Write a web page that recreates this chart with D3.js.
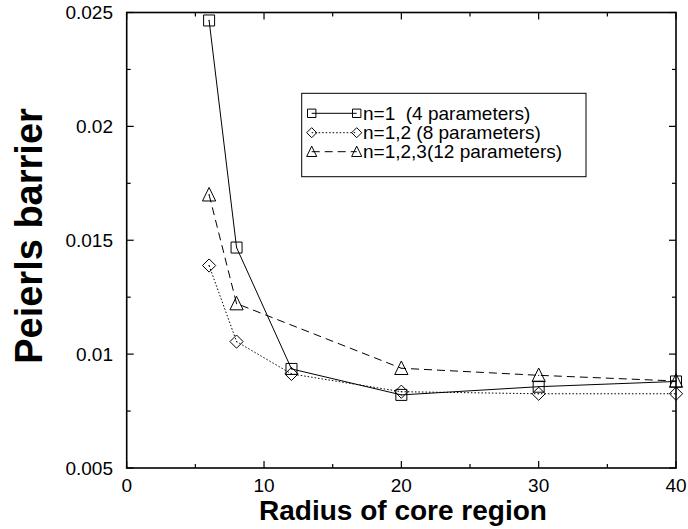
<!DOCTYPE html>
<html>
<head>
<meta charset="utf-8">
<script src="https://cdn.jsdelivr.net/npm/d3@7"></script>
<style>
  html, body { margin: 0; padding: 0; background: #fff; }
  svg { display: block; }
  text { font-family: "Liberation Sans", Arial, sans-serif; fill: #000; }
</style>
</head>
<body>
<svg id="chart" width="688" height="529"></svg>
<script>
// Core radius values (x) and Peierls barrier for each fit
const radii = [6, 8, 12, 20, 30, 40];
const barrierN1 = [0.02465, 0.01468, 0.00935, 0.00821, 0.00857, 0.00880];
const barrierN12 = [0.01389, 0.01055, 0.00913, 0.00835, 0.00826, 0.00826];
const barrierN123 = [0.01700, 0.01222, null, 0.00938, 0.00907, 0.00882];

const seriesNames = ["n=1  (4 parameters)", "n=1,2 (8 parameters)", "n=1,2,3(12 parameters)"];
const xTicks = [0, 10, 20, 30, 40];
const yTicks = [0.005, 0.01, 0.015, 0.02, 0.025];
const yTickLabels = ["0.005", "0.01", "0.015", "0.02", "0.025"];
const xMinorTicks = [5, 15, 25, 35];
const yMinorTicks = [0.0075, 0.0125, 0.0175, 0.0225];

const series = [
  { name: seriesNames[0], values: barrierN1, symbol: "square", dash: null },
  { name: seriesNames[1], values: barrierN12, symbol: "diamond", dash: "1.5,2" },
  { name: seriesNames[2], values: barrierN123, symbol: "triangle", dash: "8,5" }
];

const svg = d3.select("#chart");
const plotLeft = 126.7, plotRight = 676, plotTop = 12.5, plotBottom = 468;

const x = d3.scaleLinear().domain([0, 40]).range([plotLeft, plotRight]);
const y = d3.scaleLinear().domain([0.005, 0.025]).range([plotBottom, plotTop]);

// Tick marks drawn inward on all four sides
const g = svg.append("g");
const major = 7, minor = 4;
function tickLines(vals, len, horizontal) {
  vals.forEach(v => {
    if (horizontal) {
      g.append("line").attr("x1", x(v)).attr("x2", x(v)).attr("y1", plotBottom).attr("y2", plotBottom - len)
        .attr("stroke", "#000").attr("stroke-width", 1.2);
      g.append("line").attr("x1", x(v)).attr("x2", x(v)).attr("y1", plotTop).attr("y2", plotTop + len)
        .attr("stroke", "#000").attr("stroke-width", 1.2);
    } else {
      g.append("line").attr("x1", plotLeft).attr("x2", plotLeft + len).attr("y1", y(v)).attr("y2", y(v))
        .attr("stroke", "#000").attr("stroke-width", 1.2);
      g.append("line").attr("x1", plotRight).attr("x2", plotRight - len).attr("y1", y(v)).attr("y2", y(v))
        .attr("stroke", "#000").attr("stroke-width", 1.2);
    }
  });
}
tickLines(xTicks, major, true);
tickLines(xMinorTicks, minor, true);
tickLines(yTicks, major, false);
tickLines(yMinorTicks, minor, false);

// Frame
g.append("rect").attr("x", plotLeft).attr("y", plotTop)
  .attr("width", plotRight - plotLeft).attr("height", plotBottom - plotTop)
  .attr("fill", "none").attr("stroke", "#000").attr("stroke-width", 1.6);

// Tick labels
g.selectAll(".xl").data(xTicks).enter().append("text")
  .attr("x", d => x(d)).attr("y", 485).attr("dy", "0.35em")
  .attr("text-anchor", "middle").style("font-size", "19px").text(d => d);
g.selectAll(".yl").data(yTicks).enter().append("text")
  .attr("x", 113).attr("y", d => y(d)).attr("dy", "0.35em")
  .attr("text-anchor", "end").style("font-size", "19px").text((d, i) => yTickLabels[i]);

// Axis titles
svg.append("text").attr("x", 403).attr("y", 520).attr("text-anchor", "middle")
  .style("font-size", "28px").style("font-weight", "bold").text("Radius of core region");
svg.append("text").attr("transform", "translate(42,236) rotate(-90)").attr("text-anchor", "middle")
  .style("font-size", "38px").style("font-weight", "bold").text("Peierls barrier");

// Marker path generators
function symbolPath(type, s) {
  if (type === "square") {
    return `M${-s},${-s}L${s},${-s}L${s},${s}L${-s},${s}Z`;
  } else if (type === "diamond") {
    const d = s * 1.2;
    return `M0,${-d}L${d},0L0,${d}L${-d},0Z`;
  } else {
    const h = s * 1.2;
    return `M0,${-h * 1.1}L${h},${h * 0.95}L${-h},${h * 0.95}Z`;
  }
}

const plot = svg.append("g");
series.forEach(s => {
  const pts = radii.map((r, i) => ({ r, v: s.values[i] })).filter(p => p.v !== null);
  const line = d3.line().x(p => x(p.r)).y(p => y(p.v));
  plot.append("path").datum(pts).attr("d", line)
    .attr("fill", "none").attr("stroke", "#000").attr("stroke-width", 1)
    .attr("stroke-dasharray", s.dash);
  pts.forEach(p => {
    plot.append("path").attr("d", symbolPath(s.symbol, 5.5))
      .attr("transform", `translate(${x(p.r)},${y(p.v)})`)
      .attr("fill", "none").attr("stroke", "#000").attr("stroke-width", 1);
    plot.append("circle").attr("cx", x(p.r)).attr("cy", y(p.v)).attr("r", 0.6).attr("fill", "#000");
  });
});

// Legend
const lg = svg.append("g");
lg.append("rect").attr("x", 301.7).attr("y", 93.3).attr("width", 284.3).attr("height", 83.4)
  .attr("fill", "#fff").attr("stroke", "#000").attr("stroke-width", 1);
const rowY = [113.3, 132.7, 151.7];
series.forEach((s, i) => {
  const yy = rowY[i];
  lg.append("line").attr("x1", 311.7).attr("x2", 356.7).attr("y1", yy).attr("y2", yy)
    .attr("stroke", "#000").attr("stroke-width", 1).attr("stroke-dasharray", s.dash);
  [311.7, 356.7].forEach(cx => {
    lg.append("path").attr("d", symbolPath(s.symbol, 4.2))
      .attr("transform", `translate(${cx},${yy})`)
      .attr("fill", "none").attr("stroke", "#000").attr("stroke-width", 1);
  });
  lg.append("text").attr("x", 363).attr("y", yy).attr("dy", "0.35em")
    .style("font-size", "19px").style("white-space", "pre").text(s.name);
});
</script>
</body>
</html>
